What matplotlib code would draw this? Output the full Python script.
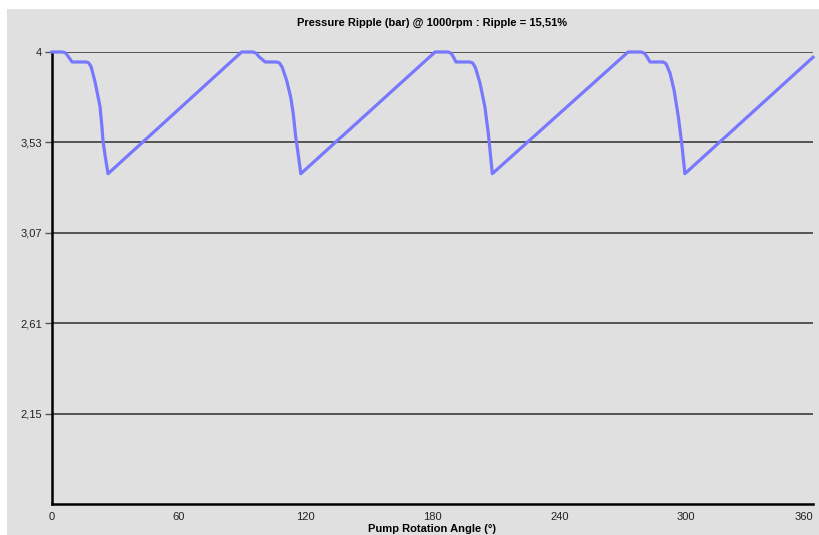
import matplotlib
matplotlib.use("Agg")
import matplotlib.pyplot as plt
from matplotlib.patches import Rectangle

# pump angle (deg) and pressure (bar)
angle = [0, 5.0, 6.5, 7.8, 9.5, 16.1, 17.3, 18.5, 20.3, 22.0, 22.7, 23.6, 24.1, 25.1, 26.5,
         88.5, 89.7, 95.0, 96.6, 98.0, 100.8, 106.3, 107.6, 108.9, 111.0, 112.9, 114.1, 115.3, 116.2, 117.7,
         180.0, 181.2, 187.3, 188.8, 190.0, 191.1, 197.7, 199.0, 200.3, 202.5, 204.8, 206.4, 207.2, 208.3,
         271.3, 272.5, 278.6, 280.2, 281.5, 282.9, 289.1, 290.5, 292.4, 294.3, 296.3, 297.9, 299.4,
         360]
pressure = [4.0, 4.0, 3.995, 3.975, 3.949, 3.949, 3.945, 3.925, 3.850, 3.760, 3.722, 3.620, 3.549, 3.472, 3.378,
            3.988, 4.0, 4.0, 3.994, 3.975, 3.949, 3.949, 3.944, 3.922, 3.855, 3.770, 3.687, 3.566, 3.498, 3.378,
            3.988, 4.0, 4.0, 3.994, 3.972, 3.949, 3.949, 3.944, 3.920, 3.840, 3.719, 3.584, 3.498, 3.378,
            3.988, 4.0, 4.0, 3.994, 3.975, 3.949, 3.949, 3.940, 3.891, 3.804, 3.668, 3.533, 3.378,
            3.973]

x_ticks = [0, 60, 120, 180, 240, 300, 360]
y_ticks = [4.0, 3.538, 3.076, 2.614, 2.152]
y_labels = ["4", "3,53", "3,07", "2,61", "2,15"]
y_min = 1.69

bg = "#e0e0e0"
plt.rcParams['font.family'] = ['Liberation Sans', 'DejaVu Sans']

fig = plt.figure(figsize=(8.2, 5.35), dpi=100, facecolor="white")
fig.patches.append(Rectangle((7 / 820, 0), 1, 1 - 9 / 535, transform=fig.transFigure,
                             facecolor=bg, edgecolor="none", zorder=-10))

ax = fig.add_axes([52 / 820, 1 - 504 / 535, (813 - 52) / 820, (504 - 52) / 535])
ax.set_facecolor(bg)
ax.plot(angle, pressure, color="#7878ff", lw=2.3, clip_on=False, zorder=3,
        solid_joinstyle="round")

ax.set_xlim(0, 360)
ax.set_ylim(y_min, 4.0)
ax.set_xticks(x_ticks)
ax.set_xticklabels([str(v) for v in x_ticks])
ax.get_xticklabels()[-1].set_ha("right")
ax.set_yticks(y_ticks)
ax.set_yticklabels(y_labels)
ax.tick_params(axis="x", length=0, pad=6, labelsize=8, colors="#222222")
ax.tick_params(axis="y", length=5, width=1, color="#555555", pad=2, labelsize=8, labelcolor="#222222")
ax.yaxis.grid(True, color="#2e2e2e", lw=1.1)
ax.set_axisbelow(True)

for s in ["top", "right"]:
    ax.spines[s].set_visible(False)
for s in ["left", "bottom"]:
    ax.spines[s].set_linewidth(1.8)
    ax.spines[s].set_color("black")

ax.set_title("Pressure Ripple (bar) @ 1000rpm : Ripple = 15,51%", fontsize=8,
             fontweight="bold", pad=18.5)
fig.text(432 / 820, 1 / 535, "Pump Rotation Angle (°)", ha="center", va="bottom",
         fontsize=8, fontweight="bold")

fig.savefig("out.png", dpi=100, facecolor="white")
